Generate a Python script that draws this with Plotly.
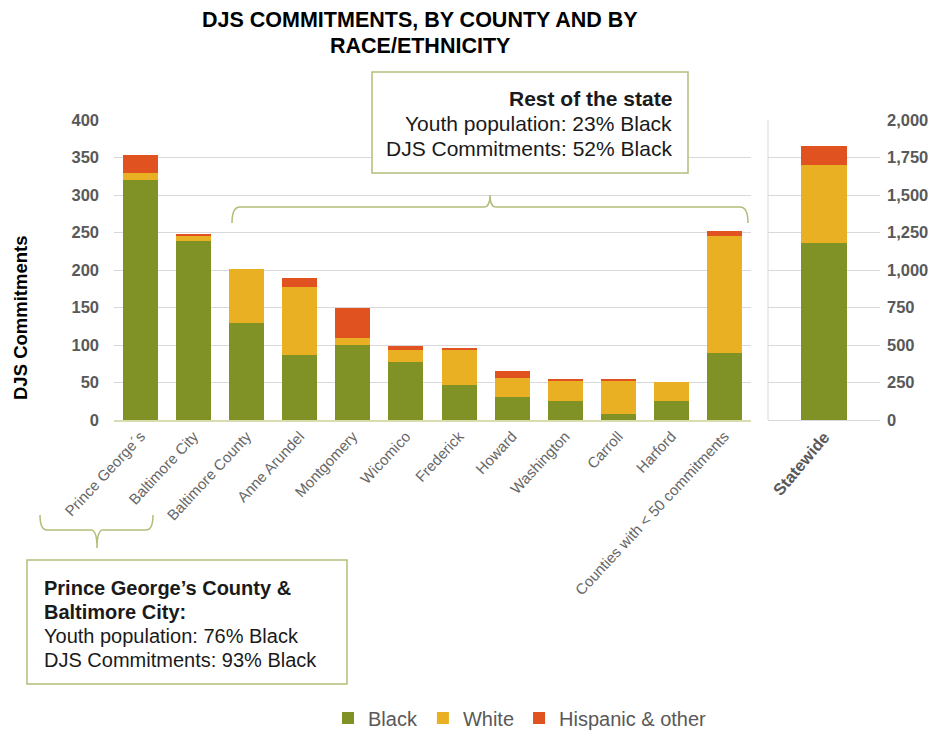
import plotly.graph_objects as go

counties = ["Prince George\u00b4s", "Baltimore City", "Baltimore County", "Anne Arundel",
            "Montgomery", "Wicomico", "Frederick", "Howard", "Washington", "Carroll",
            "Harford", "Counties with < 50 commitments"]
black = [320, 239, 130, 87, 100, 78, 47, 31, 25, 8, 25, 89]
white = [9, 7, 71, 90, 10, 15, 46, 25, 28, 45, 26, 156]
hispanic = [24, 1, 0, 13, 40, 6, 3, 10, 2, 1, 0, 7]

state_label = ["Statewide"]
state_black = [1183]
state_white = [520]
state_hispanic = [123]

left_ticks = [0, 50, 100, 150, 200, 250, 300, 350, 400]
right_ticks = [0, 250, 500, 750, 1000, 1250, 1500, 1750, 2000]

C_BLACK = "#809226"
C_WHITE = "#eab024"
C_HISP = "#e05220"
GRAY = "#595959"
FONT = "Liberation Sans, Arial, sans-serif"
BOX = "#b3bd78"

W, H = 939, 731
L, R, T, B = 114, 880, 120, 420


def px(x):
    return (x - L) / (R - L)


def py(y):
    return 1 - (y - T) / (B - T)


fig = go.Figure()
series = [("Black", black, state_black, C_BLACK),
          ("White", white, state_white, C_WHITE),
          ("Hispanic & other", hispanic, state_hispanic, C_HISP)]
for name, vals, svals, col in series:
    fig.add_trace(go.Bar(x=counties, y=vals, name=name, marker_color=col,
                         marker_line_width=0, xaxis="x", yaxis="y", legendgroup=name))
    fig.add_trace(go.Bar(x=state_label, y=svals, name=name, marker_color=col,
                         marker_line_width=0, xaxis="x2", yaxis="y2", legendgroup=name,
                         showlegend=False, width=0.41))

fig.update_layout(
    width=W, height=H,
    margin=dict(l=L, r=W - R, t=T, b=H - B, autoexpand=False),
    barmode="stack",
    bargap=0.34,
    plot_bgcolor="white", paper_bgcolor="white",
    font=dict(family=FONT, color=GRAY),
    xaxis=dict(domain=[0, px(751)], tickangle=-47, tickfont=dict(size=15, color="#666666"),
               showline=True, linecolor="#d8dcae", linewidth=1.5, ticks="",
               automargin=False),
    yaxis=dict(range=[0, 400], tickvals=left_ticks, showgrid=True, gridcolor="#d9d9d9",
               tickfont=dict(size=16.5, color=GRAY, weight="bold"), zeroline=False,
               ticklabelstandoff=14, automargin=False),
    xaxis2=dict(domain=[px(768), 1], anchor="y2", tickangle=-50,
                tickfont=dict(size=16.5, color=GRAY, weight="bold"),
                showline=True, linecolor="#d9d9d9", ticks="", automargin=False),
    yaxis2=dict(range=[0, 2000], tickvals=right_ticks, anchor="x2", side="right",
                showgrid=True, gridcolor="#d9d9d9", tickformat=",",
                tickfont=dict(size=16.5, color=GRAY, weight="bold"), zeroline=False,
                ticklabelstandoff=6, automargin=False),
    legend=dict(orientation="h", x=px(520), xanchor="center", y=py(718), yanchor="middle",
                font=dict(size=20, color=GRAY), traceorder="normal", itemwidth=30),
    showlegend=True,
)

shapes = []
shapes.append(dict(type="line", xref="paper", yref="paper", x0=px(768), x1=px(768),
                   y0=py(120), y1=py(420), line=dict(color="#d9d9d9", width=1)))
shapes.append(dict(type="rect", xref="paper", yref="paper", x0=px(372), x1=px(688),
                   y0=py(72), y1=py(173), line=dict(color=BOX, width=1.5), fillcolor="white",
                   layer="above"))
shapes.append(dict(type="rect", xref="paper", yref="paper", x0=px(27), x1=px(347),
                   y0=py(560), y1=py(684), line=dict(color=BOX, width=1.5), fillcolor="white",
                   layer="above"))


def P(x, y):
    return f"{px(x):.5f},{py(y):.5f}"


top_brace = (f"M {P(232,223)} Q {P(232,207)} {P(240,207)} L {P(484,207)} "
             f"Q {P(490,207)} {P(490,195)} Q {P(490,207)} {P(496,207)} "
             f"L {P(740,207)} Q {P(748,207)} {P(748,223)}")
bot_brace = (f"M {P(40,515)} Q {P(40,530)} {P(47,530)} L {P(91,530)} "
             f"Q {P(97,530)} {P(97,548)} Q {P(97,530)} {P(103,530)} "
             f"L {P(146,530)} Q {P(153,530)} {P(153,515)}")
for pth in (top_brace, bot_brace):
    shapes.append(dict(type="path", xref="paper", yref="paper", path=pth,
                       line=dict(color=BOX, width=1.5)))
fig.update_layout(shapes=shapes)

ann = []
ann.append(dict(text="<b>DJS COMMITMENTS, BY COUNTY AND BY</b>", x=px(420), y=py(20),
                font=dict(size=21.5, color="#000000")))
ann.append(dict(text="<b>RACE/ETHNICITY</b>", x=px(420), y=py(46),
                font=dict(size=21.5, color="#000000")))
ann.append(dict(text="<b>DJS Commitments</b>", x=px(20), y=py(318), textangle=-90,
                font=dict(size=18.5, color="#000000")))
for t, yy in [("<b>Rest of the state</b>", 98), ("Youth population: 23% Black", 123),
              ("DJS Commitments: 52% Black", 148)]:
    ann.append(dict(text=t, x=px(674), y=py(yy), xanchor="right",
                    font=dict(size=21, color="#1a1a1a")))
for t, yy in [("<b>Prince George\u2019s County &amp;</b>", 588), ("<b>Baltimore City:</b>", 612),
              ("Youth population: 76% Black", 636), ("DJS Commitments: 93% Black", 660)]:
    ann.append(dict(text=t, x=px(42), y=py(yy), xanchor="left",
                    font=dict(size=20, color="#1a1a1a")))
for a in ann:
    a.setdefault("xanchor", "center")
    a.update(xref="paper", yref="paper", yanchor="middle", showarrow=False)
fig.update_layout(annotations=ann)

fig.write_html("out.html")
